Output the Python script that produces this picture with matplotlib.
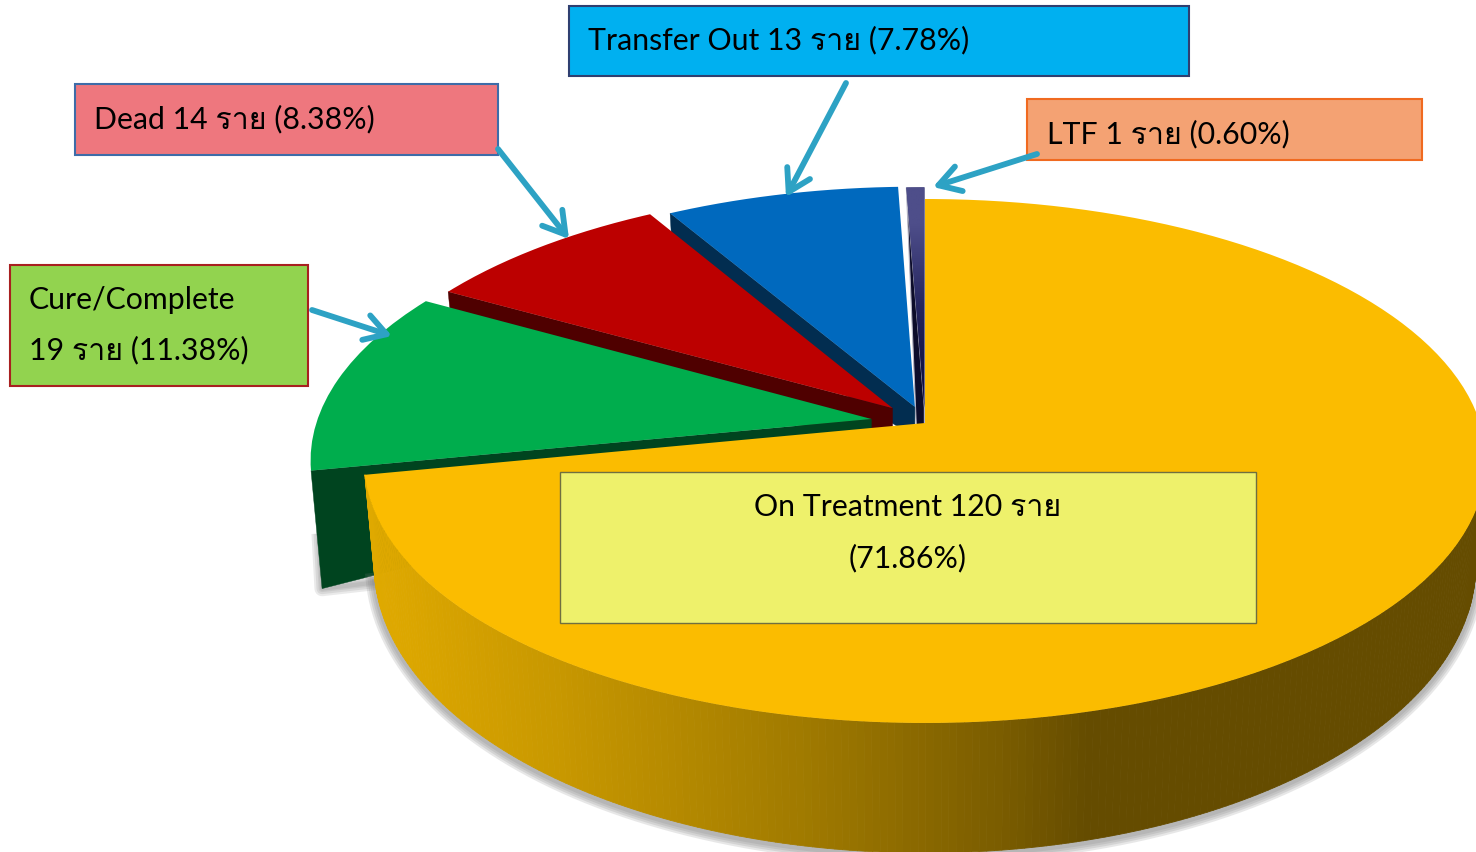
import numpy as np
import matplotlib
matplotlib.use("Agg")
import matplotlib.pyplot as plt
from matplotlib.path import Path
from matplotlib.patches import Rectangle, Polygon
from matplotlib.collections import PolyCollection
from matplotlib.colors import LinearSegmentedColormap, to_rgb
from matplotlib.transforms import Transform, Affine2D
from matplotlib import font_manager as fm
from matplotlib.ft2font import FT2Font

# ---- data ----
categories = ["On Treatment", "Cure/Complete", "Dead", "Transfer Out", "LTF"]
counts = [120, 19, 14, 13, 1]
percents = [71.86, 11.38, 8.38, 7.78, 0.60]
explode = [0.0, 0.098, 0.083, 0.066, 0.06]
top_colors = ["#FBBC00", "#00AD4D", "#BC0000", "#0069BE", "#2A2A68"]
wall_colors = [None, "#00441F", "#4F0000", "#022D50", "#0C0C2A"]
unit = "ราย"

# ---- perspective of the pie plane ----
CX, K, APEX_Y, A, C = 925.0, 555.0, 424.0, -195.0, 0.145


class Persp(Transform):
    input_dims = 2
    output_dims = 2
    is_separable = False
    has_inverse = False

    def transform_non_affine(self, pts):
        p = np.asarray(pts, float)
        d = 1 + C * p[:, 1]
        return np.column_stack([CX + K * p[:, 0] / d, (A * p[:, 1] + APEX_Y) / d])

    def transform_path_non_affine(self, path):
        polys = path.transformed(Affine2D().scale(500)).to_polygons(closed_only=True)
        return Path(self.transform_non_affine(polys[0] / 500), closed=True)


persp = Persp()


def extrude(p, factor=1.0):
    p = np.atleast_2d(p)
    h = (105 + (p[:, 1] - 477) * 0.101) * factor
    return np.column_stack([CX + (p[:, 0] - CX) * 0.982, p[:, 1] + h])


# ---- fonts ----
def thai_font():
    for f in fm.fontManager.ttflist:
        try:
            if 0x0E23 in FT2Font(f.fname).get_charmap():
                return f.name
        except Exception:
            pass
    return None


tf = thai_font()
family = ["Lato"] + ([tf] if tf else []) + ["DejaVu Sans"]
plt.rcParams["font.family"] = family

fig = plt.figure(figsize=(14.76, 8.53), dpi=100)
ax = fig.add_axes([0, 0, 1, 1])

wedges, _ = ax.pie(counts, explode=explode, colors=top_colors, startangle=90,
                   counterclock=False, radius=1, frame=False,
                   wedgeprops=dict(linewidth=0))
fractions = np.array(counts) / np.sum(counts)
edges = np.concatenate([[0], np.cumsum(fractions)]) * 2 * np.pi  # clockwise from top


def circle_pt(theta, i):
    mid = (edges[i] + edges[i + 1]) / 2
    return np.array([[np.sin(theta) + explode[i] * np.sin(mid),
                      np.cos(theta) + explode[i] * np.cos(mid)]])


def apex_pt(i):
    mid = (edges[i] + edges[i + 1]) / 2
    return np.array([[explode[i] * np.sin(mid), explode[i] * np.cos(mid)]])


# walls of the exploded slices, drawn back to front
wall_depth = {1: 1.13, 2: 1.0, 3: 1.0}
for i in [4, 3, 2, 1]:
    z = 2 + (4 - i)
    rim = persp.transform_non_affine(circle_pt(edges[i], i))
    apex = persp.transform_non_affine(apex_pt(i))
    if i == 4:
        pts = np.vstack([rim, apex, apex + [0, 20], apex + [-8, 20]])
        ax.add_patch(Polygon(pts, closed=True, fc=wall_colors[i], ec="#B4B4C4",
                             lw=0.8, zorder=z))
    else:
        rim_b = extrude(rim, wall_depth[i])
        apex_b = apex + [0, 30]
        pts = np.vstack([rim, apex, apex_b, rim_b])
        ax.add_patch(Polygon(pts, closed=True, fc=wall_colors[i], ec=wall_colors[i],
                             lw=0.3, zorder=z))
    wedges[i].set_transform(persp + ax.transData)
    wedges[i].set_zorder(z + 0.5)

# soft glow below the green block
g_rim = persp.transform_non_affine(circle_pt(edges[1], 1))
g_bot = extrude(g_rim, wall_depth[1])
g_line = np.vstack([g_bot + [-3, -55], g_bot, g_bot + [70, -8]])
for lw_ in [11, 8, 5, 3]:
    ax.plot(g_line[:, 0], g_line[:, 1], color="#808080", alpha=0.16, lw=lw_, zorder=1,
            solid_joinstyle="round", solid_capstyle="butt")

# yellow side wall (visible front part of the rim only)
th = np.linspace(np.radians(95), edges[1], 240)
rim_y = persp.transform_non_affine(np.column_stack([np.sin(th), np.cos(th)]))
bot_y = extrude(rim_y)
for lw_ in [13, 10, 7, 4]:
    ax.plot(bot_y[:, 0], bot_y[:, 1] + 2, color="#7C7C7C", alpha=0.18, lw=lw_, zorder=6.2)
side_cmap = LinearSegmentedColormap.from_list("side", [
    (0.0, "#DFA900"), (0.26, "#C79700"), (0.60, "#A07A00"), (0.88, "#7A5C00"), (1.0, "#654C00")])
quads, cols = [], []
for j in range(len(th) - 1):
    quads.append([rim_y[j], rim_y[j + 1], bot_y[j + 1], bot_y[j]])
    t = np.clip((0.5 * (rim_y[j, 0] + rim_y[j + 1, 0]) - 375) / (1090 - 375), 0, 1)
    cols.append(side_cmap(t))
ax.add_collection(PolyCollection(quads, facecolors=cols, edgecolors=cols, linewidths=0.6,
                                 zorder=6.5))
wedges[0].set_transform(persp + ax.transData)
wedges[0].set_zorder(7)

# gradient on the thin LTF slice
grad = np.array([[to_rgb("#4E4E8A")], [to_rgb("#26265F")], [to_rgb("#101040")]])
im = ax.imshow(grad, extent=(895, 935, 427, 185), aspect="auto", interpolation="bilinear",
               zorder=wedges[4].get_zorder() + 0.1)
im.set_clip_path(wedges[4])

ax.set_xlim(0, 1476)
ax.set_ylim(853, 0)
ax.set_aspect("auto")
ax.axis("off")

# ---- callouts ----
boxes = {
    "Transfer Out": (569, 7, 620, 70, "#00B0F0", "#2F3F70", 1.5),
    "Dead": (75, 85, 423, 71, "#EE777E", "#3E6CA8", 1.5),
    "LTF": (1027, 100, 395, 61, "#F4A273", "#F06A20", 1.5),
    "Cure/Complete": (10, 266, 298, 121, "#92D34F", "#A82020", 1.5),
    "On Treatment": (560, 473, 696, 151, "#EEF16B", "#6F6F40", 1.0),
}
for name, (x, y, w, h, fc, ec, lw_) in boxes.items():
    ax.add_patch(Rectangle((x, y), w, h, fc=fc, ec=ec, lw=lw_, zorder=8))

FS = 21.8
idx = {c: n for n, c in enumerate(categories)}


def lab(c):
    n = idx[c]
    return f"{counts[n]} {unit} ({percents[n]:.2f}%)"


txt = dict(fontsize=FS, color="black", va="center", zorder=9)
ax.text(588, 40, f"Transfer Out {lab('Transfer Out')}", ha="left", **txt)
ax.text(94, 119, f"Dead {lab('Dead')}", ha="left", **txt)
ax.text(1047, 134, f"LTF {lab('LTF')}", ha="left", **txt)
ax.text(29, 300, "Cure/Complete", ha="left", **txt)
ax.text(29, 350, lab("Cure/Complete"), ha="left", **txt)
ax.text(908, 507, f"On Treatment {counts[0]} {unit}", ha="center", **txt)
ax.text(908, 558, f"({percents[0]:.2f}%)", ha="center", **txt)

arrows = [((312, 311), (392, 337)), ((498, 150), (569, 240)),
          ((846, 84), (786, 198)), ((1037, 155), (933, 188))]
for start, end in arrows:
    ax.annotate("", xy=end, xytext=start, zorder=10,
                arrowprops=dict(arrowstyle="->,head_length=0.7,head_width=0.42", lw=4.2,
                                color="#2DA2C4", shrinkA=0, shrinkB=0, mutation_scale=22))

fig.savefig("out.png", dpi=100)
